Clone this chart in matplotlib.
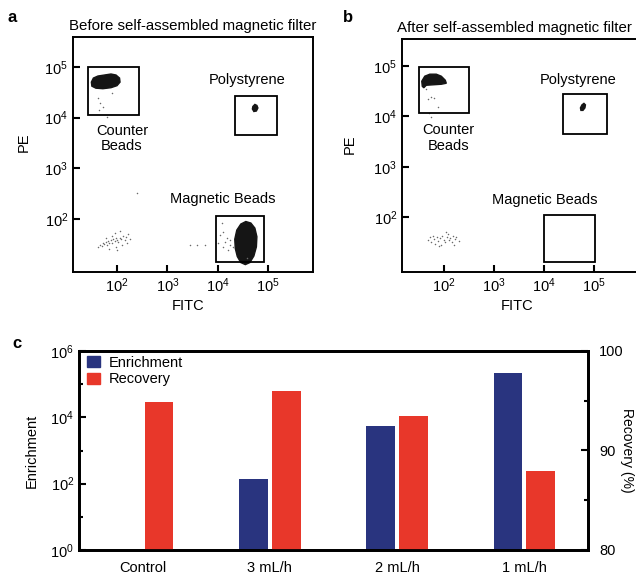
import numpy as np
import matplotlib
matplotlib.use("Agg")
import matplotlib.pyplot as plt
from matplotlib.patches import Rectangle, Patch

plt.rcParams['font.family'] = ['Liberation Sans', 'DejaVu Sans']
plt.rcParams['mathtext.default'] = 'regular'
plt.rcParams['font.size'] = 10.5

# ---- flow cytometry panels (values in decades, log10) ----
# gates: (x0, x1, y0, y1)
gates_a = {'counter': (1.42, 2.44, 4.06, 5.00),
           'poly': (4.34, 5.18, 3.65, 4.43),
           'magnetic': (3.96, 4.92, 1.16, 2.06)}
gates_b = {'counter': (1.50, 2.50, 4.07, 4.98),
           'poly': (4.38, 5.26, 3.65, 4.44),
           'magnetic': (4.00, 5.02, 1.10, 2.04)}

# dense populations drawn as filled outlines
counter_blob_a_x = [1.50, 1.49, 1.53, 1.62, 1.75, 1.88, 1.98, 2.05, 2.06, 2.00, 1.88, 1.72, 1.58]
counter_blob_a_y = [4.62, 4.70, 4.78, 4.82, 4.84, 4.86, 4.84, 4.78, 4.70, 4.63, 4.59, 4.57, 4.58]
poly_blob_a_x = [4.69, 4.70, 4.74, 4.78, 4.80, 4.77, 4.72]
poly_blob_a_y = [4.17, 4.22, 4.26, 4.24, 4.19, 4.13, 4.12]
mag_blob_a_x = [4.56, 4.66, 4.74, 4.78, 4.77, 4.72, 4.64, 4.55, 4.46, 4.39, 4.35, 4.34, 4.38, 4.46]
mag_blob_a_y = [1.95, 1.92, 1.82, 1.65, 1.45, 1.27, 1.14, 1.10, 1.14, 1.26, 1.42, 1.60, 1.78, 1.90]

counter_blob_b_x = [1.57, 1.56, 1.62, 1.72, 1.85, 1.95, 2.03, 2.05, 1.95, 1.80, 1.65, 1.60]
counter_blob_b_y = [4.60, 4.70, 4.80, 4.84, 4.84, 4.80, 4.72, 4.66, 4.64, 4.63, 4.62, 4.57]
poly_blob_b_x = [4.74, 4.73, 4.76, 4.80, 4.83, 4.82, 4.78]
poly_blob_b_y = [4.12, 4.17, 4.23, 4.26, 4.23, 4.17, 4.12]

# sparse events
dots_a_x = [1.63, 1.66, 1.70, 1.72, 1.75, 1.78, 1.80, 1.83, 1.85, 1.88, 1.90, 1.92, 1.95, 1.97,
            2.00, 2.02, 2.05, 2.08, 2.12, 2.15, 2.18, 2.22, 1.95, 2.05, 1.85, 1.97, 2.10, 2.20,
            1.78, 2.25, 1.90, 2.00, 2.40,
            1.62, 1.66, 1.72, 1.64, 1.80, 1.90,
            4.09, 4.11, 4.05, 4.19, 4.15, 4.25, 4.25, 4.31, 4.21, 4.11, 4.01, 4.58,
            3.45, 3.59, 3.75]
dots_a_y = [1.45, 1.48, 1.47, 1.52, 1.50, 1.55, 1.49, 1.56, 1.53, 1.58, 1.52, 1.60, 1.56, 1.62,
            1.58, 1.54, 1.63, 1.60, 1.66, 1.58, 1.64, 1.70, 1.72, 1.76, 1.40, 1.44, 1.48, 1.52,
            1.62, 1.60, 1.66, 1.38, 2.51,
            4.39, 4.29, 4.21, 4.15, 4.01, 4.49,
            1.92, 1.74, 1.68, 1.63, 1.55, 1.59, 1.49, 1.45, 1.39, 1.45, 1.53, 1.23,
            1.49, 1.49, 1.49]
dots_b_x = [1.68, 1.72, 1.75, 1.78, 1.80, 1.83, 1.86, 1.88, 1.92, 1.95, 1.97, 2.00, 2.03,
            2.06, 2.08, 2.10, 2.13, 2.16, 2.18, 2.22, 2.25, 2.30, 2.05, 1.90, 2.20,
            1.64, 1.74, 1.80, 1.88, 1.68, 1.70, 1.74]
dots_b_y = [1.55, 1.60, 1.50, 1.63, 1.56, 1.47, 1.60, 1.53, 1.58, 1.45, 1.62, 1.55, 1.50,
            1.60, 1.66, 1.54, 1.58, 1.50, 1.63, 1.56, 1.60, 1.52, 1.70, 1.42, 1.44,
            4.54, 4.38, 4.36, 4.18, 4.34, 4.07, 3.99]

decade_ticks = [1e2, 1e3, 1e4, 1e5]

# ---- bar chart panel ----
conditions = ['Control', '3 mL/h', '2 mL/h', '1 mL/h']
enrichment = [np.nan, 140, 5.5e3, 2.2e5]
recovery = [94.9, 96.0, 93.5, 87.9]

blob_color = '#151515'
dot_color = '#6a6a6a'
navy = '#29347f'
red = '#e8372a'


def style_dot_axes(ax, xlim, ylim):
    ax.set_xscale('log')
    ax.set_yscale('log')
    ax.set_xlim(10 ** xlim[0], 10 ** xlim[1])
    ax.set_ylim(10 ** ylim[0], 10 ** ylim[1])
    ax.set_xticks(decade_ticks)
    ax.set_yticks(decade_ticks)
    ax.minorticks_off()
    ax.tick_params(direction='in', length=5, width=1.5, top=False, right=False)
    for s in ax.spines.values():
        s.set_linewidth(1.4)


def draw_gates(ax, gates):
    for x0, x1, y0, y1 in gates.values():
        ax.add_patch(Rectangle((10 ** x0, 10 ** y0), 10 ** x1 - 10 ** x0, 10 ** y1 - 10 ** y0,
                               fill=False, ec='black', lw=1.3, zorder=3))


def draw_blob(ax, xs, ys):
    ax.fill(10 ** np.array(xs), 10 ** np.array(ys), color=blob_color, lw=1.0, zorder=2)


fig = plt.figure(figsize=(6.36, 5.77), dpi=100)
W, H = 636, 577
ax_a = fig.add_axes([73 / W, 1 - 272 / H, 240 / W, 235 / H])
ax_b = fig.add_axes([402 / W, 1 - 272 / H, 240 / W, 233 / H])
ax_c = fig.add_axes([79 / W, 1 - 550 / H, 509 / W, 199 / H])

# panel a
style_dot_axes(ax_a, (1.125, 5.895), (0.954, 5.59))
draw_gates(ax_a, gates_a)
draw_blob(ax_a, counter_blob_a_x, counter_blob_a_y)
draw_blob(ax_a, poly_blob_a_x, poly_blob_a_y)
draw_blob(ax_a, mag_blob_a_x, mag_blob_a_y)
ax_a.scatter(10 ** np.array(dots_a_x), 10 ** np.array(dots_a_y), s=1.2, c=dot_color, lw=0, zorder=2)
ax_a.text(10 ** 4.58, 10 ** 4.74, 'Polystyrene', ha='center', va='center')
ax_a.text(10 ** 2.10, 10 ** 3.59, 'Counter\nBeads', ha='center', va='center', linespacing=1.15)
ax_a.text(10 ** 4.11, 10 ** 2.40, 'Magnetic Beads', ha='center', va='center')
ax_a.set_title('Before self-assembled magnetic filter', pad=5, fontsize=10.8)
ax_a.set_xlabel('FITC')
ax_a.set_ylabel('PE')
ax_a.xaxis.set_label_coords(0.48, -0.115)
ax_a.yaxis.set_label_coords(-0.175, 0.55)

# panel b (its right edge runs off the figure, as in the original)
style_dot_axes(ax_b, (1.165, 5.96), (0.906, 5.54))
draw_gates(ax_b, gates_b)
draw_blob(ax_b, counter_blob_b_x, counter_blob_b_y)
draw_blob(ax_b, poly_blob_b_x, poly_blob_b_y)
ax_b.scatter(10 ** np.array(dots_b_x), 10 ** np.array(dots_b_y), s=1.2, c=dot_color, lw=0, zorder=2)
ax_b.text(10 ** 4.68, 10 ** 4.72, 'Polystyrene', ha='center', va='center')
ax_b.text(10 ** 2.10, 10 ** 3.57, 'Counter\nBeads', ha='center', va='center', linespacing=1.15)
ax_b.text(10 ** 4.02, 10 ** 2.34, 'Magnetic Beads', ha='center', va='center')
ax_b.set_title('After self-assembled magnetic filter', pad=5, fontsize=10.8, x=0.47)
ax_b.set_xlabel('FITC')
ax_b.set_ylabel('PE')
ax_b.xaxis.set_label_coords(0.48, -0.115)
ax_b.yaxis.set_label_coords(-0.19, 0.55)

# panel c
x = np.arange(len(conditions))
off, bw = 0.128, 0.226
ax_c.set_yscale('log')
ax_c.set_ylim(1, 1e6)
ax_c.set_xlim(-0.5, len(conditions) - 0.5)
b1 = ax_c.bar(x - off, enrichment, bw, color=navy, zorder=2)
ax_c.set_yticks([1, 1e2, 1e4, 1e6])
ax_c.set_yticks([10, 1e3, 1e5], minor=True)
ax_c.set_yticklabels([], minor=True)
ax_c.set_xticks(x)
ax_c.set_xticklabels(conditions)
ax_c.tick_params(axis='x', length=0, pad=8)
ax_c.tick_params(axis='y', which='major', direction='in', length=5, width=1.5)
ax_c.tick_params(axis='y', which='minor', direction='in', length=3, width=1.5)
ax_c.set_ylabel('Enrichment')
ax_c.yaxis.set_label_coords(-0.08, 0.5)

ax_r = ax_c.twinx()
ax_r.set_ylim(80, 100)
b2 = ax_r.bar(x + off, recovery, bw, color=red, zorder=2)
ax_r.set_yticks([80, 90, 100])
ax_r.set_yticks([85, 95], minor=True)
ax_r.tick_params(axis='y', which='major', direction='in', length=5, width=1.5, pad=8)
ax_r.tick_params(axis='y', which='minor', direction='in', length=3, width=1.5)
ax_r.set_ylabel('Recovery (%)', rotation=270, va='bottom', fontsize=10)
ax_r.yaxis.set_label_coords(1.062, 0.5)
for s in list(ax_c.spines.values()) + list(ax_r.spines.values()):
    s.set_linewidth(2)

ax_c.legend([Patch(color=navy), Patch(color=red)], ['Enrichment', 'Recovery'],
            loc='upper left', bbox_to_anchor=(0.016, 0.975), frameon=False,
            borderpad=0, borderaxespad=0, handlelength=0.85, handleheight=0.8,
            handletextpad=0.6, labelspacing=0.15, fontsize=10.5)

for lab, px, py in [('a', 8, 18), ('b', 343, 18), ('c', 12, 343)]:
    fig.text(px / W, 1 - py / H, lab, fontsize=12, fontweight='bold', va='center')

fig.savefig('out.png', dpi=100)
